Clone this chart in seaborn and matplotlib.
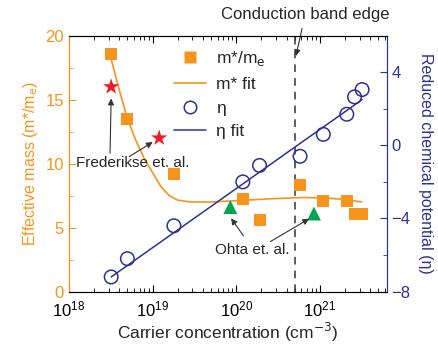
import numpy as np
import pandas as pd
import seaborn as sns
import matplotlib.pyplot as plt
from matplotlib.lines import Line2D
from matplotlib.ticker import LogLocator, MultipleLocator, NullFormatter

# data
conc = [3.2e18, 5e18, 1.8e19, 1.2e20, 1.9e20, 5.8e20, 1.1e21, 2.1e21, 2.6e21, 3.2e21]
mass = [18.6, 13.5, 9.2, 7.2, 5.6, 8.3, 7.1, 7.1, 6.1, 6.05]

eta_conc = [3.2e18, 5e18, 1.8e19, 1.2e20, 1.9e20, 5.8e20, 1.1e21, 2.1e21, 2.6e21, 3.2e21]
eta = [-7.2, -6.2, -4.4, -2.0, -1.1, -0.6, 0.6, 1.7, 2.65, 3.05]

# m* fit curve
fit_logx = [18.5, 18.6, 18.7, 18.8, 18.9, 19.0, 19.1, 19.2, 19.3, 19.45, 19.7, 20.0, 20.4, 20.8, 21.1, 21.3, 21.5]
fit_mass = [18.3, 15.8, 13.5, 11.8, 10.4, 9.3, 8.2, 7.5, 7.15, 7.0, 7.0, 7.1, 7.25, 7.35, 7.3, 7.2, 7.0]

eta_fit_x = [3.2e18, 3.2e21]
eta_fit_y = [-7.2, 2.5]

fred_x = [3.2e18, 1.2e19]
fred_y = [16.0, 12.0]
ohta_x = [8.5e19, 8.5e20]
ohta_y = [6.6, 6.1]

band_edge = 5.1e20

orange = '#F7941D'
blue = '#2E3192'
green = '#00A651'
red = '#ED1C24'

sns.set_style('ticks')
plt.rcParams['font.family'] = ['Liberation Sans', 'DejaVu Sans']
plt.rcParams['xtick.direction'] = 'in'
plt.rcParams['ytick.direction'] = 'in'

fig = plt.figure(figsize=(4.39, 3.53), dpi=100)
ax = fig.add_axes([0.157, 0.174, 0.724, 0.725])
ax2 = ax.twinx()

df_m = pd.DataFrame({'x': conc, 'y': mass})
df_fit = pd.DataFrame({'x': 10 ** np.array(fit_logx), 'y': fit_mass})
sns.lineplot(data=df_fit, x='x', y='y', ax=ax, color=orange, lw=1.2, zorder=2)
sns.scatterplot(data=df_m, x='x', y='y', ax=ax, marker='s', s=75, color=orange,
                edgecolor='none', zorder=3)
sns.scatterplot(x=fred_x, y=fred_y, ax=ax, marker='*', s=150, color=red,
                edgecolor='none', zorder=3)
sns.scatterplot(x=ohta_x, y=ohta_y, ax=ax, marker='^', s=100, color=green,
                edgecolor='none', zorder=3)

df_e = pd.DataFrame({'x': eta_conc, 'y': eta})
sns.lineplot(x=eta_fit_x, y=eta_fit_y, ax=ax2, color=blue, lw=1.1)
sns.scatterplot(data=df_e, x='x', y='y', ax=ax2, marker='o', s=95,
                facecolor='none', edgecolor=blue, linewidth=1.1, zorder=3)

ax.axvline(band_edge, color='#333333', ls=(0, (5, 4)), lw=1.1)

ax.set_xscale('log')
ax.set_xlim(1e18, 10 ** 21.8)
ax.set_ylim(0, 20)
ax2.set_ylim(-8, 6)
ax.xaxis.set_major_locator(LogLocator(base=10, numticks=10))
ax.xaxis.set_minor_locator(LogLocator(base=10, subs=np.arange(2, 10), numticks=20))
ax.xaxis.set_minor_formatter(NullFormatter())
ax.yaxis.set_major_locator(MultipleLocator(5))
ax.yaxis.set_minor_locator(MultipleLocator(2.5))
ax2.yaxis.set_major_locator(MultipleLocator(4))
ax2.yaxis.set_minor_locator(MultipleLocator(2))
ax2.set_yticks([4, 0, -4, -8])

ax.tick_params(axis='x', which='both', top=True, labelsize=12, colors='black', pad=6)
ax.tick_params(axis='x', which='major', length=5)
ax.tick_params(axis='x', which='minor', length=3)
ax.tick_params(axis='y', which='both', colors=orange, labelsize=12)
ax.tick_params(axis='y', which='major', length=5)
ax.tick_params(axis='y', which='minor', length=3)
ax2.tick_params(axis='y', which='both', colors=blue, labelsize=12)
ax2.tick_params(axis='y', which='major', length=5)
ax2.tick_params(axis='y', which='minor', length=3)

for a in (ax, ax2):
    a.spines['left'].set_color(orange)
    a.spines['right'].set_color(blue)
    a.spines['top'].set_color('black')
    a.spines['bottom'].set_color('black')
    a.spines['top'].set_visible(True)
    a.spines['right'].set_visible(True)

ax.set_xlabel('Carrier concentration (cm$^{-3}$)', fontsize=12.5, labelpad=1)
ax.set_ylabel('Effective mass (m*/m$_\\mathrm{e}$)', fontsize=11.5, color=orange, labelpad=4)
ax2.set_ylabel('Reduced chemical potential (\u03b7)', fontsize=11.5, color=blue,
               rotation=270, labelpad=16)

handles = [
    Line2D([], [], ls='none', marker='s', ms=8.5, color=orange, mec='none'),
    Line2D([], [], color=orange, lw=1.2),
    Line2D([], [], ls='none', marker='o', ms=9, mfc='none', mec=blue, mew=1.1),
    Line2D([], [], color=blue, lw=1.1),
]
labels = ['m*/m$_\\mathrm{e}$', 'm* fit', '\u03b7', '\u03b7 fit']
ax2.legend(handles, labels, loc='upper left', bbox_to_anchor=(0.31, 0.975), frameon=False,
           fontsize=12.5, handlelength=1.8, handletextpad=0.6, labelspacing=0.5,
           borderaxespad=0)

arrow = dict(arrowstyle='-|>', color='#333333', lw=0.8, mutation_scale=9)
ax.annotate('Conduction band edge', xy=(band_edge, 18.2), xytext=(305, 338),
            textcoords='figure pixels', ha='center', va='center', fontsize=12,
            arrowprops=arrow, annotation_clip=False)
ax.text(133, 190, 'Frederikse et. al.', transform=None, ha='center', va='center', fontsize=11)
ax.annotate('', xy=(fred_x[0], 15.3), xytext=(110, 197), textcoords='figure pixels',
            arrowprops=arrow)
ax.annotate('', xy=(10 ** 19.03, 11.8), xytext=(127, 195), textcoords='figure pixels',
            arrowprops=arrow)
ax.text(252, 103, 'Ohta et. al.', transform=None, ha='center', va='center', fontsize=11)
ax.annotate('', xy=(10 ** 19.92, 5.9), xytext=(245, 115), textcoords='figure pixels',
            arrowprops=arrow)
ax.annotate('', xy=(10 ** 20.9, 5.8), xytext=(268, 110), textcoords='figure pixels',
            arrowprops=arrow)

fig.savefig('out.png', dpi=100)
